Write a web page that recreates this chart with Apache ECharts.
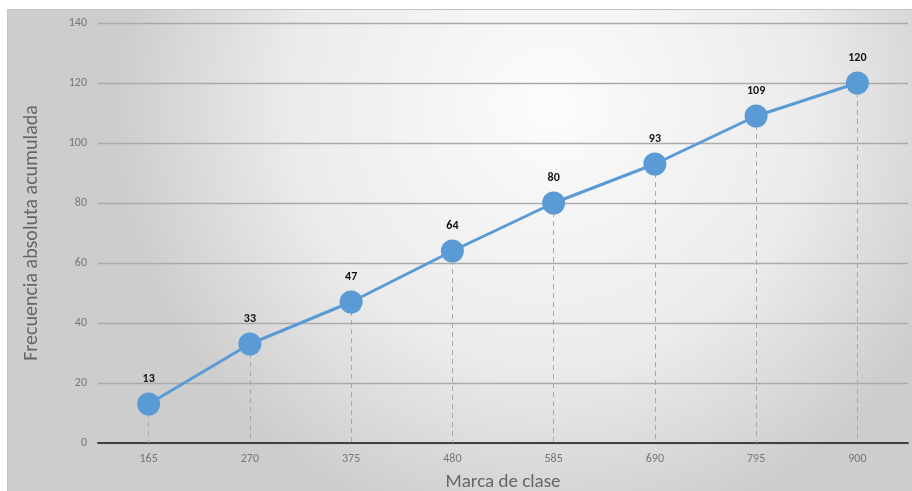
<!DOCTYPE html>
<html>
<head>
<meta charset="utf-8">
<script src="https://cdn.jsdelivr.net/npm/echarts@6/dist/echarts.min.js"></script>
<style>
  html, body { margin: 0; padding: 0; background: #ffffff; }
  #chart { width: 912px; height: 491px; }
</style>
</head>
<body>
<div id="chart"></div>
<script>
// Marcas de clase (eje X) y frecuencia absoluta acumulada (eje Y)
const categories = ['165', '270', '375', '480', '585', '690', '795', '900'];
const cumulative = [13, 33, 47, 64, 80, 93, 109, 120];
const yTicks = { min: 0, max: 140, interval: 20 };

const chart = echarts.init(document.getElementById('chart'), null, { renderer: 'canvas' });

// Líneas verticales punteadas desde cada punto hasta el eje
const dropLines = cumulative.map((v, i) => [
  { coord: [i, v] },
  { coord: [i, 0] }
]);

const font = 'Carlito, Lato, "Open Sans", sans-serif';

chart.setOption({
  animation: false,
  graphic: [{
    type: 'rect',
    left: 7, top: 9, z: -10,
    shape: { width: 905, height: 482 },
    style: {
      fill: {
        type: 'radial', x: 0.6, y: 0.2, r: 0.9,
        colorStops: [
          { offset: 0, color: '#fcfcfc' },
          { offset: 0.6, color: '#ebebeb' },
          { offset: 1, color: '#cdcdcd' }
        ]
      },
      stroke: '#c4c4c4', lineWidth: 1
    }
  }],
  grid: { left: 98, right: 4, top: 23, bottom: 48, outerBoundsMode: 'none', containLabel: false },
  xAxis: {
    type: 'category',
    data: categories,
    boundaryGap: true,
    name: 'Marca de clase',
    nameLocation: 'middle',
    nameGap: 30,
    nameTextStyle: { color: '#666', fontSize: 19, fontFamily: font },
    axisLine: { show: true, lineStyle: { color: '#404040', width: 2 } },
    axisTick: { show: false },
    axisLabel: { color: '#777', fontSize: 12, margin: 10, fontFamily: font },
    splitLine: { show: false }
  },
  yAxis: {
    type: 'value',
    min: yTicks.min, max: yTicks.max, interval: yTicks.interval,
    name: 'Frecuencia absoluta acumulada',
    nameLocation: 'middle',
    nameGap: 56,
    nameTextStyle: { color: '#666', fontSize: 20, fontFamily: font },
    axisLine: { show: false },
    axisTick: { show: false },
    axisLabel: { color: '#777', fontSize: 12, margin: 11, fontFamily: font },
    splitLine: { lineStyle: { color: '#aaaaaa', width: 1.3 } }
  },
  series: [{
    type: 'line',
    data: cumulative,
    symbol: 'circle',
    symbolSize: 23,
    itemStyle: { color: '#5b9bd5' },
    lineStyle: { color: '#5b9bd5', width: 3 },
    label: {
      show: true, position: 'top', distance: 8,
      color: '#111', fontWeight: 'bold', fontSize: 12, fontFamily: font
    },
    markLine: {
      silent: true,
      symbol: ['none', 'none'],
      label: { show: false },
      lineStyle: { color: '#a8a8a8', type: [5, 4], width: 1 },
      data: dropLines,
      z: 1
    },
    z: 3
  }]
});
</script>
</body>
</html>
